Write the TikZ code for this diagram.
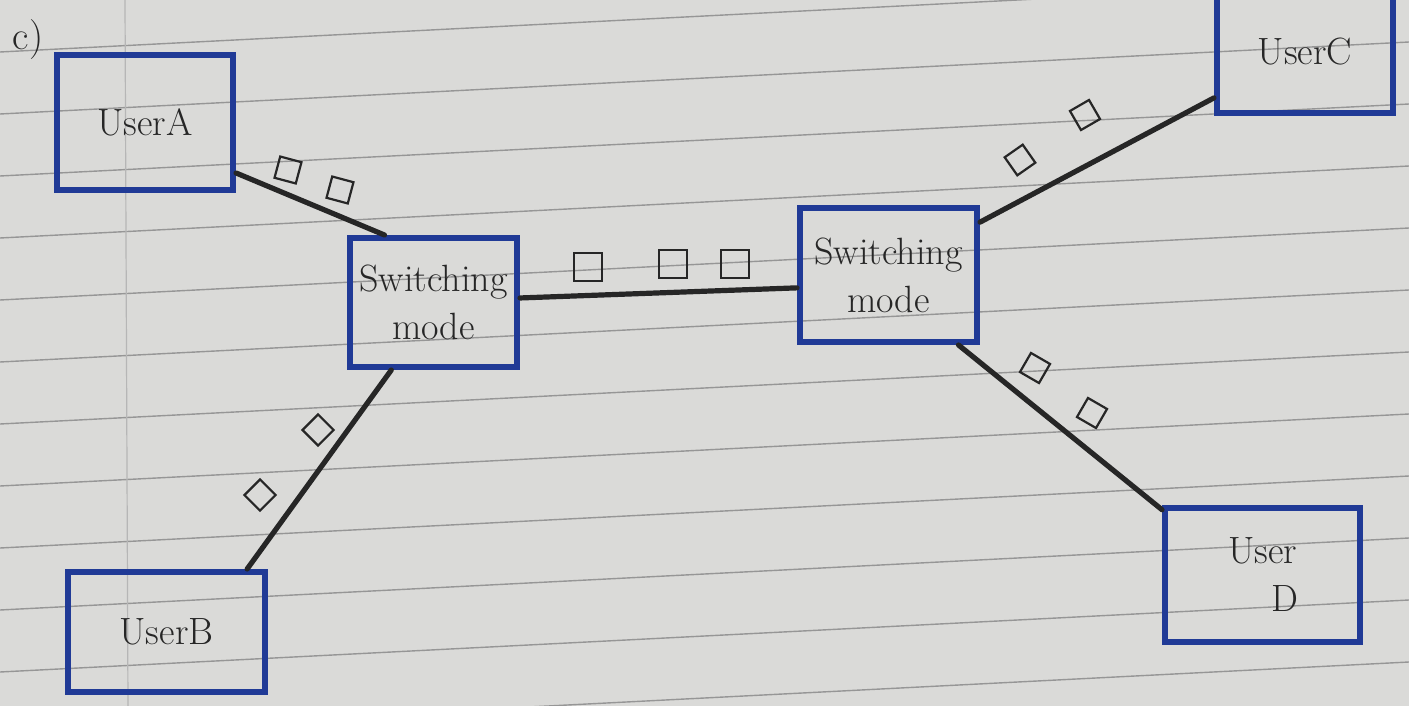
\documentclass[tikz,border=0pt]{standalone}
\usepackage{fontspec}
\begin{document}
\begin{tikzpicture}[x=0.5pt,y=-0.5pt,
  box/.style={draw=boxblue,line width=3pt,rectangle,inner sep=0pt,align=center,
    font=\fontsize{19}{24}\selectfont,text=ink},
  link/.style={draw=ink,line width=2.6pt,line cap=round},
  pkt/.style={draw=ink,line width=1.1pt,rectangle,minimum size=11pt,inner sep=0pt},
  bigpkt/.style={pkt,minimum size=14pt},
  rule/.style={draw=ruleline,line width=0.7pt}]
\definecolor{paper}{RGB}{218,218,216}
\definecolor{ruleline}{RGB}{150,150,150}
\definecolor{boxblue}{RGB}{32,58,150}
\definecolor{ink}{RGB}{38,38,38}
\useasboundingbox (0,0) rectangle (1409,706);
\clip (0,0) rectangle (1409,706);
\fill[paper] (0,0) rectangle (1409,706);
% ruled paper lines
\foreach \y in {-10,52,114,176,238,300,362,424,486,548,610,672,734,796}
  \draw[rule] (0,\y) -- (1409,\y-72);
\draw[ruleline!70,line width=0.6pt] (125,0) -- (128,706);
% label
\node[text=ink,font=\fontsize{20}{24}\selectfont] (lbl) at (28,40) {c)};
% nodes
\node[box,minimum width=88pt,minimum height=67.5pt] (a) at (145,122.5) {UserA};
\node[box,minimum width=98.5pt,minimum height=60pt] (b) at (166.5,632) {UserB};
\node[box,minimum width=88pt,minimum height=61.5pt] (c) at (1305,51.5) {\raisebox{-4pt}{UserC}};
\node[box,minimum width=97.5pt,minimum height=67pt] (d) at (1262.5,575) {User\\\hspace*{1.2em}D};
\node[box,minimum width=83.5pt,minimum height=64.5pt] (s1) at (433.5,302.5) {Switching\\mode};
\node[box,minimum width=88.5pt,minimum height=67pt] (s2) at (888.5,275) {Switching\\mode};
% connectors
\draw[link] (a.-29) -- (s1.126);
\draw[link] (s1.238) -- (b.38.5);
\draw[link] (s1.3) -- (s2.188);
\draw[link] (s2.30) -- (c.207.7);
\draw[link] (s2.-45.2) -- (d.147.6);
% packets
\node[pkt,rotate=-15] (p1) at (288,170) {};
\node[pkt,rotate=-15] (p2) at (340,190) {};
\node[bigpkt] (p3) at (588,267) {};
\node[bigpkt] (p4) at (673,264) {};
\node[bigpkt] (p5) at (735,264) {};
\node[pkt,rotate=45] (p6) at (318,430) {};
\node[pkt,rotate=45] (p7) at (260,495) {};
\node[pkt,rotate=35] (p8) at (1020,160) {};
\node[pkt,rotate=30] (p9) at (1085,115) {};
\node[pkt,rotate=-30] (p10) at (1035,368) {};
\node[pkt,rotate=-30] (p11) at (1092,413) {};
\end{tikzpicture}
\end{document}
